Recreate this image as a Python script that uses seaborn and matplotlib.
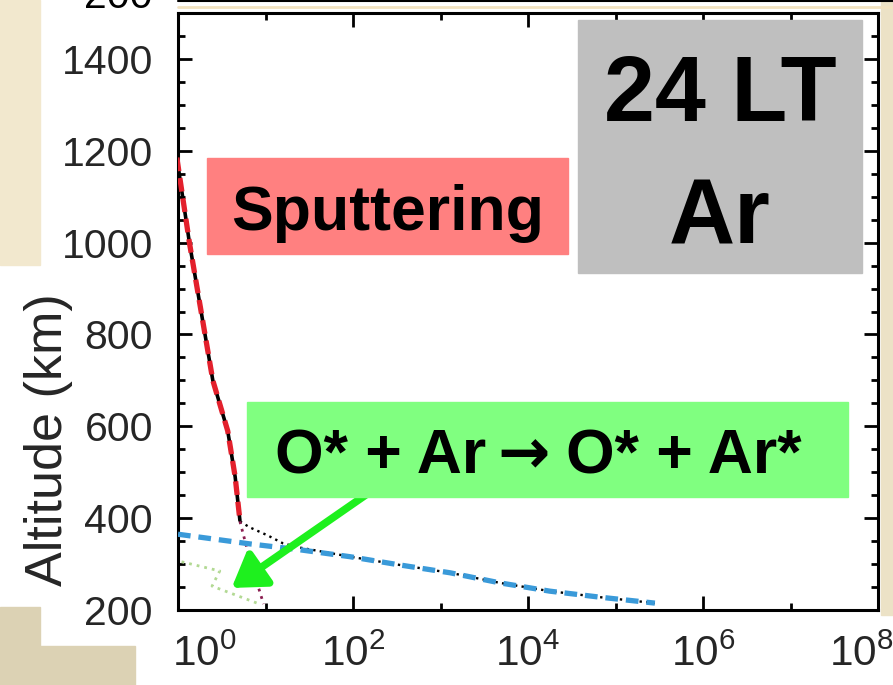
import matplotlib
matplotlib.use("Agg")
import matplotlib.pyplot as plt
import matplotlib.transforms as mtransforms
import seaborn as sns
from matplotlib.patches import Rectangle
from matplotlib.lines import Line2D
from matplotlib.ticker import FixedLocator, FixedFormatter, NullFormatter, MultipleLocator

# ---------------- data ----------------
sputter_alt = [1185, 1000, 860, 700, 590, 490, 395]
sputter_val = [0.97, 1.35, 1.8, 2.5, 3.7, 4.5, 5.1]

total_alt = [393, 380, 362, 345, 336, 328, 316, 298, 281, 259, 241, 228, 215]
total_val = [5.1, 6.6, 10.7, 15.9, 24.5, 42, 93, 345, 1290, 4800, 17800, 66000, 282000]

blue_alt = [365, 344, 331, 316, 298, 281, 259, 241, 228, 215]
blue_val = [1.0, 6.6, 25, 93, 345, 1290, 4800, 17800, 66000, 282000]

darkred_alt = [393, 311, 213]
darkred_val = [5.1, 6.6, 9.5]

green_alt = [309, 285, 252, 215]
green_val = [0.9, 3.0, 2.45, 8.0]

x_major = [1e0, 1e2, 1e4, 1e6, 1e8]
x_major_labels = [r"$\mathregular{10^{0}}$", r"$\mathregular{10^{2}}$", r"$\mathregular{10^{4}}$",
                  r"$\mathregular{10^{6}}$", r"$\mathregular{10^{8}}$"]
x_minor = [1e1, 1e3, 1e5, 1e7]
y_major = [200, 400, 600, 800, 1000, 1200, 1400]

arrow_tail = (183, 466)
arrow_head = (4.1, 248)

# ---------------- style ----------------
sns.set_style("ticks")
plt.rcParams["font.family"] = ["Liberation Sans", "DejaVu Sans"]
plt.rcParams["mathtext.fontset"] = "custom"
plt.rcParams["mathtext.rm"] = "Liberation Sans"
plt.rcParams["mathtext.it"] = "Liberation Sans:italic"
plt.rcParams["mathtext.bf"] = "Liberation Sans:bold"

W, H = 893, 685
fig = plt.figure(figsize=(W / 100, H / 100), dpi=100, facecolor="white")

def fx(px):
    return px / W

def fy(py):
    return 1 - py / H

# background decorations
fig.add_artist(Rectangle((fx(0), fy(265)), fx(40), 265 / H, color="#F2E8CE", zorder=0))
fig.add_artist(Rectangle((fx(0), fy(H)), fx(40), (H - 607) / H, color="#DCD2B4", zorder=0))
fig.add_artist(Rectangle((fx(0), fy(H)), fx(135), (H - 646) / H, color="#DCD2B4", zorder=0))
fig.add_artist(Rectangle((fx(881), fy(615)), fx(12), 615 / H, color="#ECE2C6", zorder=0))
fig.add_artist(Line2D([fx(178), 1], [fy(0.8), fy(0.8)], color="black", lw=1.5, zorder=1))
fig.add_artist(Line2D([fx(178), 1], [fy(7), fy(7)], color="#F2E2C0", lw=2, zorder=1))
fig.text(fx(153), fy(8), "200", ha="right", va="baseline", fontsize=29.5, color="black")

ax = fig.add_axes([fx(178), fy(610), 700 / W, 597 / H])
ax.set_facecolor("white")

# ---------------- lines ----------------
sns.lineplot(x=sputter_val, y=sputter_alt, sort=False, estimator=None, ax=ax,
             color="black", lw=2.6, zorder=3)
sns.lineplot(x=sputter_val, y=sputter_alt, sort=False, estimator=None, ax=ax,
             color="#E3202C", lw=3.8, zorder=4).lines[-1].set_dashes([2.6, 1.3])
sns.lineplot(x=total_val, y=total_alt, sort=False, estimator=None, ax=ax,
             color="black", lw=1.7, zorder=3).lines[-1].set_dashes([1, 1.8])
sns.lineplot(x=blue_val, y=blue_alt, sort=False, estimator=None, ax=ax,
             color="#3A9AD9", lw=3.8, zorder=4).lines[-1].set_dashes([2.4, 1.5])
sns.lineplot(x=darkred_val, y=darkred_alt, sort=False, estimator=None, ax=ax,
             color="#8B1E50", lw=2.0, zorder=3).lines[-1].set_dashes([1, 1.8])
sns.lineplot(x=green_val, y=green_alt, sort=False, estimator=None, ax=ax,
             color="#B2D993", lw=2.0, zorder=3).lines[-1].set_dashes([1, 1.8])

# ---------------- axes ----------------
ax.set_xscale("log")
ax.set_xlim(1e0, 1e8)
ax.set_ylim(200, 1500)
ax.xaxis.set_major_locator(FixedLocator(x_major))
ax.xaxis.set_major_formatter(FixedFormatter(x_major_labels))
ax.xaxis.set_minor_locator(FixedLocator(x_minor))
ax.xaxis.set_minor_formatter(NullFormatter())
ax.yaxis.set_major_locator(FixedLocator(y_major))
ax.yaxis.set_minor_locator(MultipleLocator(50))

for s in ax.spines.values():
    s.set_visible(True)
    s.set_linewidth(2.2)
    s.set_color("black")

ax.tick_params(axis="both", which="both", direction="in", top=True, right=True,
               width=2.0, color="black")
ax.tick_params(axis="both", which="major", length=10)
ax.tick_params(axis="both", which="minor", length=5)
ax.tick_params(axis="y", which="major", labelsize=29.5, pad=18)
ax.tick_params(axis="x", which="major", labelsize=30.5, pad=18)

labels = ax.get_xticklabels()
labels[0].set_transform(labels[0].get_transform() +
                        mtransforms.ScaledTranslation(26 / 100, 0, fig.dpi_scale_trans))
labels[-1].set_transform(labels[-1].get_transform() +
                         mtransforms.ScaledTranslation(-17 / 100, 0, fig.dpi_scale_trans))

ax.set_xlabel("")
ax.set_ylabel("Altitude (km)", fontsize=37.5)
ax.yaxis.set_label_coords(-0.15, (610 - 440) / 597)

# ---------------- annotation boxes ----------------
fig.add_artist(Rectangle((fx(207), fy(254)), (568 - 207) / W, (254 - 158) / H,
                         color="#FF8080", zorder=5))
fig.text(fx(388), fy(230), "Sputtering", ha="center", va="baseline",
         fontsize=45, fontweight="bold", color="black", zorder=6)

fig.add_artist(Rectangle((fx(578), fy(273)), (862 - 578) / W, (273 - 20) / H,
                         color="#BFBFBF", zorder=5))
fig.text(fx(720), fy(121), "24 LT", ha="center", va="baseline",
         fontsize=66, fontweight="bold", color="black", zorder=6)
fig.text(fx(720), fy(244), "Ar", ha="center", va="baseline",
         fontsize=66, fontweight="bold", color="black", zorder=6)

fig.add_artist(Rectangle((fx(247), fy(497)), (848 - 247) / W, (497 - 402) / H,
                         color="#80FF80", zorder=5))
fig.text(fx(486), fy(473), "O* + Ar", ha="right", va="baseline",
         fontsize=45, fontweight="bold", color="black", zorder=6)
fig.text(fx(524), fy(473), "\u2192", ha="center", va="baseline",
         fontsize=45, fontweight="bold", color="black", zorder=6,
         family=["DejaVu Sans"])
fig.text(fx(566), fy(473), "O* + Ar*", ha="left", va="baseline",
         fontsize=45, fontweight="bold", color="black", zorder=6)

ax.annotate("", xy=arrow_head, xytext=arrow_tail, xycoords="data", textcoords="data",
            arrowprops=dict(arrowstyle="-|>,head_length=0.65,head_width=0.42",
                            lw=5.5, color="#1EF01E", mutation_scale=30,
                            shrinkA=0, shrinkB=0), zorder=7)

fig.savefig("out.png", dpi=100, facecolor="white")
